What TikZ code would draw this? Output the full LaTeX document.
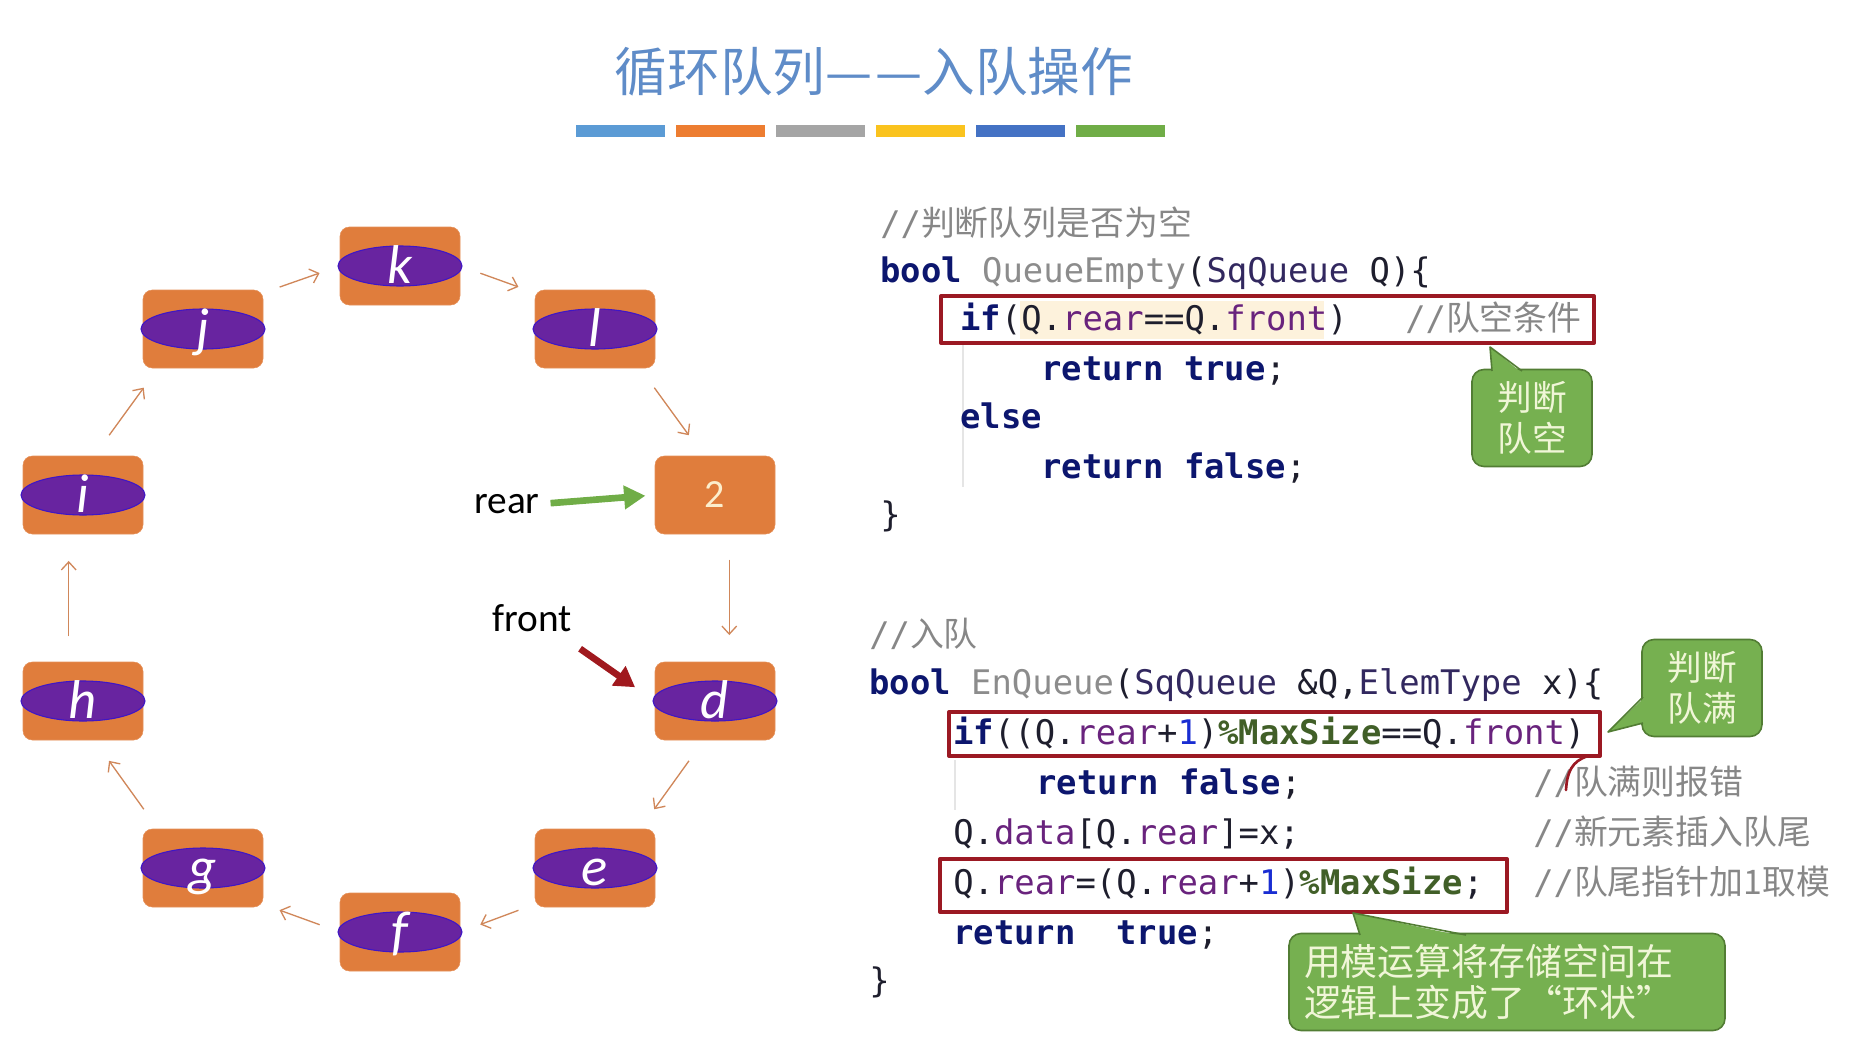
\documentclass[tikz,border=0pt]{standalone}
\usepackage{fontspec}
\setmainfont{Carlito}
\setmonofont{DejaVu Sans Mono}
\newfontfamily\cjk{Noto Sans CJK SC}
\usetikzlibrary{arrows.meta,shapes.geometric}

\definecolor{boxorange}{RGB}{224,125,60}
\definecolor{elempurple}{RGB}{104,36,160}
\definecolor{ringbrown}{RGB}{208,135,90}
\definecolor{reargreen}{RGB}{112,173,71}
\definecolor{frontred}{RGB}{160,25,30}
\definecolor{titleblue}{RGB}{95,140,200}
\definecolor{barblue}{RGB}{91,155,213}
\definecolor{barorange}{RGB}{237,125,49}
\definecolor{bargray}{RGB}{165,165,165}
\definecolor{baryellow}{RGB}{250,195,30}
\definecolor{bardark}{RGB}{68,114,196}
\definecolor{bargreen}{RGB}{112,173,71}
\definecolor{codeink}{RGB}{30,30,45}
\definecolor{kwnavy}{RGB}{12,22,110}
\definecolor{fngray}{RGB}{140,140,140}
\definecolor{typeslate}{RGB}{50,40,95}
\definecolor{fieldpurple}{RGB}{105,35,125}
\definecolor{numblue}{RGB}{25,45,210}
\definecolor{macgreen}{RGB}{65,95,40}
\definecolor{cmtgray}{RGB}{135,135,135}
\definecolor{markred}{RGB}{155,25,35}
\definecolor{hlpeach}{RGB}{253,242,220}
\definecolor{tipgreen}{RGB}{118,176,80}
\definecolor{tipborder}{RGB}{82,125,52}
\definecolor{tiptext}{RGB}{240,246,215}

\newcommand{\codefont}{\fontsize{25.4}{30}\selectfont\ttfamily}
\newcommand{\kw}[1]{\textcolor{kwnavy}{\bfseries #1}}
\newcommand{\fnm}[1]{\textcolor{fngray}{#1}}
\newcommand{\tp}[1]{\textcolor{typeslate}{#1}}
\newcommand{\fld}[1]{\textcolor{fieldpurple}{#1}}
\newcommand{\cnum}[1]{\textcolor{numblue}{#1}}
\newcommand{\mac}[1]{\textcolor{macgreen}{\bfseries #1}}
\newcommand{\cmt}[1]{\textcolor{cmtgray}{#1}}

\tikzset{
  cell/.style={rectangle,rounded corners=7pt,fill=boxorange,draw=boxorange!85!white,
    minimum width=90pt,minimum height=58.5pt,inner sep=0pt},
  elem/.style={ellipse,fill=elempurple,draw=elempurple!60!blue,line width=0.8pt,
    minimum width=93pt,minimum height=30pt,inner sep=0pt},
  letter/.style={inner sep=0pt,text=white,font=\fontsize{41}{41}\selectfont\itshape,
    text height=29pt,text depth=3.5pt},
  digit/.style={inner sep=0pt,text={rgb,255:red,252;green,238;blue,205},font=\fontsize{30}{30}\selectfont},
  ringarrow/.style={draw=ringbrown,line width=1pt,-{Straight Barb[length=6pt,width=11pt]}},
  ptrlabel/.style={inner sep=0pt,font=\fontsize{29.5}{30}\selectfont},
  codeline/.style={anchor=base west,inner sep=0pt,font=\codefont,text=codeink},
  frame/.style={draw=markred,line width=3pt},
  tipbox/.style={rectangle,rounded corners=9pt,fill=tipgreen,draw=tipborder,line width=1.2pt,
    text=tiptext,inner sep=0pt},
}

\begin{document}
\begin{tikzpicture}[x=0.75pt,y=-0.75pt,line join=round]
\useasboundingbox (0,0) rectangle (1854,1039);

% title and colour bars
\node[font=\cjk\fontsize{39.5}{40}\selectfont,text=titleblue] (title) at (874,72) {循环队列—\kern2pt—入队操作};
\foreach \c [count=\n from 0] in {barblue,barorange,bargray,baryellow,bardark,bargreen}
  \fill[\c] (576+100*\n,125) rectangle ++(89,12);

% the ring of cells
\foreach \n/\x/\y in {k/400/266,l/595/329,d/715/701,e/595/868,f/400/932,g/203/868,h/83/701,i/83/495,j/203/329}{
  \node[cell] (\n) at (\x,\y) {};
  \node[elem] (\n e) at (\n) {};
  \node[letter] (\n t) at (\n) {\n};
}
\node[cell] (two) at (715,495) {};
\node[digit] (twot) at (two) {2};

\foreach \a/\b/\s/\t in {j.31/k.west/13/16,k.east/l.149/16/13,l.-41/two.106/18/19,
    two.-70/d.70/19/20,d.-106/e.41/19/18,e.-149/f.east/13/16,f.west/g.-31/16/13,
    g.139/h.-74/18/19,h.110/i.-110/19/20,i.74/j.-139/19/18}
  \draw[ringarrow,shorten <=\s pt,shorten >=\t pt] (\a) -- (\b);

% pointers
\node[ptrlabel] (rear) at (507,504) {rear};
\node[ptrlabel] (front) at (532,618) {front};
\draw[draw=reargreen,line width=5pt,-{Triangle[length=16pt,width=17pt]},shorten <=8pt,shorten >=7pt] (rear.east) -- (two.west);
\draw[draw=frontred,line width=5pt,-{Triangle[length=15pt,width=17pt]},shorten <=22pt,shorten >=18pt] (front.-30) -- (d.west);

% QueueEmpty
\fill[hlpeach] (1020,301) rectangle (1324,339);
\draw[black!10,line width=1pt] (963,345) -- (963,487);
\node[codeline] (emptyhead) at (880,235) {\cmt{//{\cjk 判断队列是否为空}}};
\node[codeline] (emptysig) at (880,282) {\kw{bool} \fnm{QueueEmpty}(\tp{SqQueue} Q)\{};
\node[codeline] (emptyif) at (960,330) {\kw{if}(Q.\fld{rear}==Q.\fld{front})};
\node[codeline] (emptycmt) at (1405,330) {\cmt{//{\cjk 队空条件}}};
\node[codeline] (emptytrue) at (1041,380) {\kw{return} \kw{true};};
\node[codeline] (emptyelse) at (960,428) {\kw{else}};
\node[codeline] (emptyfalse) at (1041,478) {\kw{return} \kw{false};};
\node[codeline] (emptyend) at (880,526) {\}};
\draw[frame] (941,296) rectangle (1594,343);

% EnQueue
\draw[black!10,line width=1pt] (955,760) -- (955,810);
\node[codeline] (enhead) at (869,646) {\cmt{//{\cjk 入队}}};
\node[codeline] (ensig) at (869,694) {\kw{bool} \fnm{EnQueue}(\tp{SqQueue} \&Q,\tp{ElemType} x)\{};
\node[codeline] (enif) at (953,744) {\kw{if}((Q.\fld{rear}+\cnum{1})\mac{\%MaxSize}==Q.\fld{front})};
\node[codeline] (enfalse) at (1036,794) {\kw{return} \kw{false};};
\node[codeline] (enstore) at (953,844) {Q.\fld{data}[Q.\fld{rear}]=x;};
\node[codeline] (enstep) at (953,894) {Q.\fld{rear}=(Q.\fld{rear}+\cnum{1})\mac{\%MaxSize};};
\node[codeline] (entrue) at (953,944) {\kw{return}\ \ \kw{true};};
\node[codeline] (enend) at (869,992) {\}};
\node[codeline] (fullcmt) at (1533,794) {\cmt{//{\cjk 队满则报错}}};
\node[codeline] (storecmt) at (1533,844) {\cmt{//{\cjk 新元素插入队尾}}};
\node[codeline] (stepcmt) at (1533,894) {\cmt{//{\cjk 队尾指针加1取模}}};
\draw[frame] (949,712) rectangle (1600,756);
\draw[frame] (940,859) rectangle (1507,912);
\draw[markred,line width=2pt,line cap=round] (1566,790) .. controls (1567,772) and (1572,761) .. (1588,756);

% callouts
\node[tipbox,minimum width=90pt,minimum height=72.75pt,align=center,
  font=\cjk\fontsize{26}{31}\selectfont] (emptytip) at (1532,418) {判断\\队空};
\fill[tipgreen] (1490,347) -- (1522,373) -- (1492,373) -- cycle;
\draw[tipborder,line width=1.2pt] (1492,371) -- (1490,347) -- (1522,371);

\node[tipbox,minimum width=90pt,minimum height=72.75pt,align=center,
  font=\cjk\fontsize{26}{31}\selectfont] (fulltip) at (1702,688) {判断\\队满};
\fill[tipgreen] (1608,732) -- (1645,697) -- (1645,723) -- cycle;
\draw[tipborder,line width=1.2pt] (1643,697) -- (1608,732) -- (1643,723);

\node[tipbox,text width=304.5pt,inner xsep=11.25pt,minimum height=72.75pt,align=left,
  font=\cjk\fontsize{27.7}{31}\selectfont] (modtip) at (1507,982) {用模运算将存储空间在\\逻辑上变成了“环状”};
\fill[tipgreen] (1353,913) -- (1467,937) -- (1360,937) -- cycle;
\draw[tipborder,line width=1.2pt] (1360,935) -- (1353,913) -- (1466,935);
\end{tikzpicture}
\end{document}
